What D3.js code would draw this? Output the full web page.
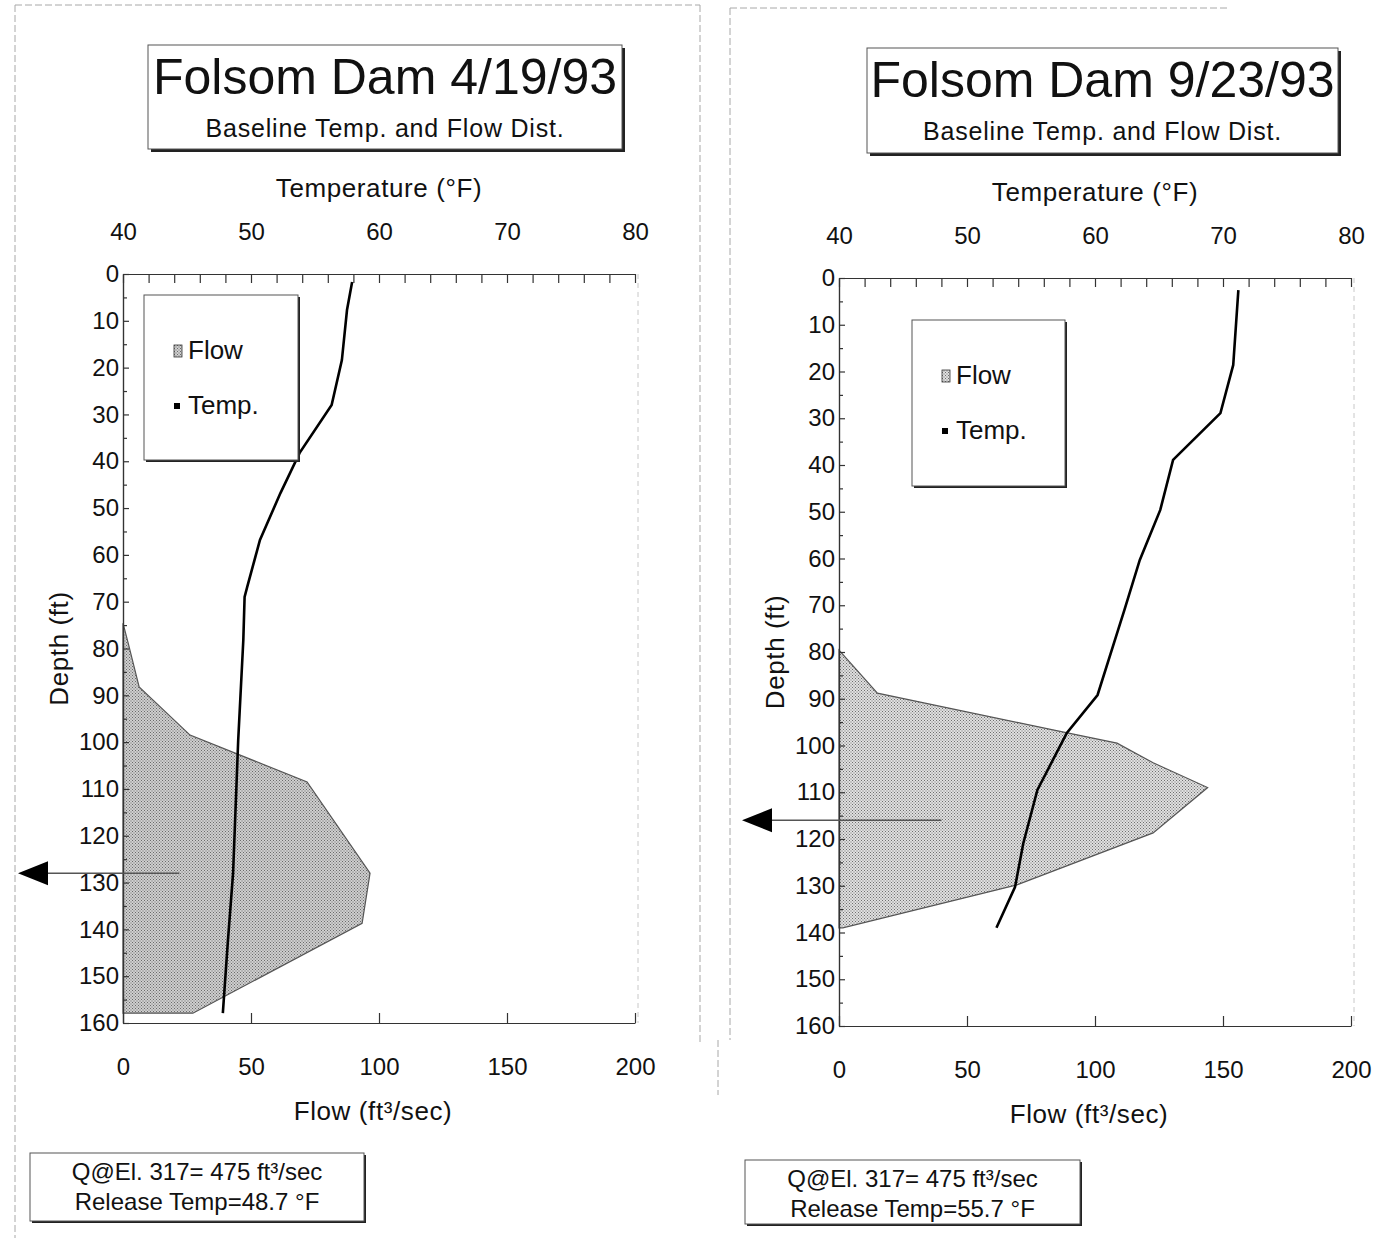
<!DOCTYPE html>
<html>
<head>
<meta charset="utf-8">
<script src="https://cdn.jsdelivr.net/npm/d3@7"></script>
<style>
body { margin: 0; background: #fff; }
text { font-family: "Liberation Sans", Arial, sans-serif; fill: #111; }
</style>
</head>
<body>
<svg id="chart"></svg>
<script>
// chart values
var chartTitles = ["Folsom Dam 4/19/93", "Folsom Dam 9/23/93"];
var chartSubtitle = "Baseline Temp. and Flow Dist.";
var legendLabels = ["Flow", "Temp."];
var tempTitle = "Temperature (°F)";
var flowTitle = "Flow (ft³/sec)";
var depthTitle = "Depth (ft)";

var tempTicks = [40, 50, 60, 70, 80];
var tempMinorTicks = [40, 42, 44, 46, 48, 50, 52, 54, 56, 58, 60, 62, 64, 66, 68, 70, 72, 74, 76, 78, 80];
var flowTicks = [0, 50, 100, 150, 200];
var depthTicks = [0, 10, 20, 30, 40, 50, 60, 70, 80, 90, 100, 110, 120, 130, 140, 150, 160];
var depthMinorTicks = [5, 15, 25, 35, 45, 55, 65, 75, 85, 95, 105, 115, 125, 135, 145, 155];

// 4/19/93
var aprTempDepth = [1.7, 7.7, 18.4, 28, 38.2, 46.8, 56.8, 66.9, 69, 78.2, 99.6, 128, 142.3, 157.9];
var aprTemp = [57.9, 57.5, 57.1, 56.3, 53.8, 52.3, 50.7, 49.7, 49.5, 49.4, 49.0, 48.6, 48.2, 47.8];
var aprFlowDepth = [74.6, 78.8, 88.2, 98.5, 108.5, 128, 138.7, 157.9];
var aprFlow = [0, 2, 6.3, 26.2, 71.9, 96.5, 93.4, 27.3];

// 9/23/93
var sepTempDepth = [2.6, 18.6, 28.9, 38.9, 49.6, 60.3, 71, 75.3, 89.2, 97.3, 109.5, 120.9, 130.3, 139];
var sepTemp = [71.2, 70.8, 69.8, 66.1, 65.1, 63.5, 62.3, 61.8, 60.2, 57.8, 55.5, 54.4, 53.75, 52.3];
var sepFlowDepth = [79.6, 88.8, 96.7, 99.5, 103.7, 109, 118.7, 129.8, 139];
var sepFlow = [0, 15, 84, 108.6, 122.7, 144, 122.7, 69.5, 1.5];

// release level arrow (depth) and how far the line reaches into the plot (flow)
var releaseDepth = [128, 116];
var releaseReach = [22, 40];

var noteLines = [
  ["Q@El. 317= 475 ft³/sec", "Release Temp=48.7 °F"],
  ["Q@El. 317= 475 ft³/sec", "Release Temp=55.7 °F"]
];

var width = 1383, height = 1238;
var svg = d3.select("#chart").attr("width", width).attr("height", height);
svg.append("rect").attr("width", width).attr("height", height).attr("fill", "#fff");

var defs = svg.append("defs");
function makePattern(id, bg, dot) {
  var p = defs.append("pattern").attr("id", id)
    .attr("width", 3).attr("height", 3).attr("patternUnits", "userSpaceOnUse");
  p.append("rect").attr("width", 3).attr("height", 3).attr("fill", bg);
  p.append("rect").attr("width", 1).attr("height", 1).attr("fill", dot);
  p.append("rect").attr("x", 1.5).attr("y", 1.5).attr("width", 1).attr("height", 1).attr("fill", dot);
}
makePattern("stipA", "#cfcfcf", "#6a6a6a");
makePattern("stipB", "#e0e0e0", "#6e6e6e");

// faint frame lines from the scan
var frames = [
  [15, 5, 15, 1238], [15, 5, 700, 5], [700, 5, 700, 1045],
  [730, 8, 730, 1040], [730, 8, 1230, 8], [718, 1040, 718, 1095]
];
svg.selectAll(".frame").data(frames).enter().append("line")
  .attr("x1", function(d) { return d[0]; }).attr("y1", function(d) { return d[1]; })
  .attr("x2", function(d) { return d[2]; }).attr("y2", function(d) { return d[3]; })
  .attr("stroke", "#a8a8a8").attr("stroke-width", 1).attr("stroke-dasharray", "7,3");

var panels = [
  { x0: 123, x1: 635, y0: 274, y1: 1023, pattern: "stipA",
    title: chartTitles[0], notes: noteLines[0],
    tD: aprTempDepth, t: aprTemp, qD: aprFlowDepth, q: aprFlow,
    rel: releaseDepth[0], reach: releaseReach[0], tip: 18,
    box: [148, 45, 474, 104], leg: [144, 295, 154, 165], note: [30, 1153, 334, 68] },
  { x0: 839, x1: 1351, y0: 278, y1: 1026, pattern: "stipB",
    title: chartTitles[1], notes: noteLines[1],
    tD: sepTempDepth, t: sepTemp, qD: sepFlowDepth, q: sepFlow,
    rel: releaseDepth[1], reach: releaseReach[1], tip: 742,
    box: [867, 48, 471, 105], leg: [912, 320, 153, 166], note: [745, 1160, 335, 64] }
];

function shadowBox(g, b, shadow) {
  g.append("rect").attr("x", b[0] + shadow).attr("y", b[1] + shadow)
    .attr("width", b[2]).attr("height", b[3]).attr("fill", "#222");
  g.append("rect").attr("x", b[0]).attr("y", b[1]).attr("width", b[2]).attr("height", b[3])
    .attr("fill", "#fff").attr("stroke", "#555").attr("stroke-width", 1);
}

panels.forEach(function(p) {
  var g = svg.append("g");
  var xT = d3.scaleLinear().domain([40, 80]).range([p.x0, p.x1]);
  var xQ = d3.scaleLinear().domain([0, 200]).range([p.x0, p.x1]);
  var yD = d3.scaleLinear().domain([0, 160]).range([p.y0, p.y1]);

  // flow distribution
  var flowPts = p.qD.map(function(d, i) { return [d, p.q[i]]; });
  var area = d3.area()
    .y(function(d) { return yD(d[0]); })
    .x0(xQ(0))
    .x1(function(d) { return xQ(d[1]); });
  g.append("path").datum(flowPts).attr("d", area)
    .attr("fill", "url(#" + p.pattern + ")")
    .attr("stroke", "#555").attr("stroke-width", 1.2);

  // faint right edge of plot
  g.append("line").attr("x1", p.x1 + 3).attr("x2", p.x1 + 3).attr("y1", p.y0).attr("y2", p.y1)
    .attr("stroke", "#c8c8c8").attr("stroke-dasharray", "5,4");

  // top temperature axis
  g.append("g").attr("transform", "translate(0," + p.y0 + ")")
    .call(d3.axisTop(xT).tickValues(tempMinorTicks).tickSizeInner(-9).tickSizeOuter(0).tickFormat(""));
  var topLabels = g.append("g").attr("transform", "translate(0," + p.y0 + ")")
    .call(d3.axisTop(xT).tickValues(tempTicks).tickSize(0).tickPadding(34));
  topLabels.select(".domain").remove();

  // bottom flow axis
  g.append("g").attr("transform", "translate(0," + p.y1 + ")")
    .call(d3.axisBottom(xQ).tickValues(flowTicks).tickSizeInner(-10).tickSizeOuter(0).tickPadding(35));

  // left depth axis
  g.append("g").attr("transform", "translate(" + p.x0 + ",0)")
    .call(d3.axisLeft(yD).tickValues(depthMinorTicks).tickSizeInner(-4).tickSizeOuter(0).tickFormat(""));
  g.append("g").attr("transform", "translate(" + p.x0 + ",0)")
    .call(d3.axisLeft(yD).tickValues(depthTicks).tickSizeInner(-6).tickSizeOuter(0).tickPadding(4));

  g.selectAll(".tick text").attr("font-size", 24).attr("font-family", "'Liberation Sans', Arial, sans-serif").attr("fill", "#111");
  g.selectAll(".domain, .tick line").attr("stroke", "#333").attr("stroke-width", 1.2);

  // temperature profile
  var tempPts = p.tD.map(function(d, i) { return [d, p.t[i]]; });
  var line = d3.line()
    .x(function(d) { return xT(d[1]); })
    .y(function(d) { return yD(d[0]); });
  g.append("path").datum(tempPts).attr("d", line)
    .attr("fill", "none").attr("stroke", "#000").attr("stroke-width", 2.6);

  // axis titles
  g.append("text").attr("x", (p.x0 + p.x1) / 2).attr("y", p.y0 - 77)
    .attr("text-anchor", "middle").attr("font-size", 26).attr("letter-spacing", 0.6).text(tempTitle);
  g.append("text").attr("x", (p.x0 + p.x1) / 2 - 6).attr("y", p.y1 + 97)
    .attr("text-anchor", "middle").attr("font-size", 26).attr("letter-spacing", 0.6).text(flowTitle);
  g.append("text").attr("transform", "translate(" + (p.x0 - 55) + "," + ((p.y0 + p.y1) / 2) + ") rotate(-90)")
    .attr("text-anchor", "middle").attr("font-size", 26).attr("letter-spacing", 0.6).text(depthTitle);

  // release arrow
  var ya = yD(p.rel);
  g.append("line").attr("x1", xQ(p.reach)).attr("x2", p.tip + 28).attr("y1", ya).attr("y2", ya)
    .attr("stroke", "#555").attr("stroke-width", 1.5);
  g.append("path")
    .attr("d", "M" + p.tip + "," + ya + "L" + (p.tip + 30) + "," + (ya - 12) + "L" + (p.tip + 30) + "," + (ya + 12) + "Z")
    .attr("fill", "#000");

  // title box
  shadowBox(g, p.box, 3);
  g.append("text").attr("x", p.box[0] + p.box[2] / 2).attr("y", p.box[1] + 49)
    .attr("text-anchor", "middle").attr("font-size", 50).text(p.title);
  g.append("text").attr("x", p.box[0] + p.box[2] / 2).attr("y", p.box[1] + 92)
    .attr("text-anchor", "middle").attr("font-size", 25).attr("letter-spacing", 0.8).text(chartSubtitle);

  // legend
  var L = p.leg;
  shadowBox(g, L, 2);
  g.append("rect").attr("x", L[0] + 30).attr("y", L[1] + 50).attr("width", 8).attr("height", 12)
    .attr("fill", "url(#" + p.pattern + ")").attr("stroke", "#333").attr("stroke-width", 0.8);
  g.append("text").attr("x", L[0] + 44).attr("y", L[1] + 64).attr("font-size", 26).text(legendLabels[0]);
  g.append("rect").attr("x", L[0] + 30).attr("y", L[1] + 108).attr("width", 6).attr("height", 6).attr("fill", "#000");
  g.append("text").attr("x", L[0] + 44).attr("y", L[1] + 119).attr("font-size", 26).text(legendLabels[1]);

  // note box
  var N = p.note;
  shadowBox(g, N, 2);
  g.selectAll(".note").data(p.notes).enter().append("text")
    .attr("x", N[0] + N[2] / 2)
    .attr("y", function(d, i) { return N[1] + 27 + i * 30; })
    .attr("text-anchor", "middle").attr("font-size", 24)
    .text(function(d) { return d; });
});
</script>
</body>
</html>
